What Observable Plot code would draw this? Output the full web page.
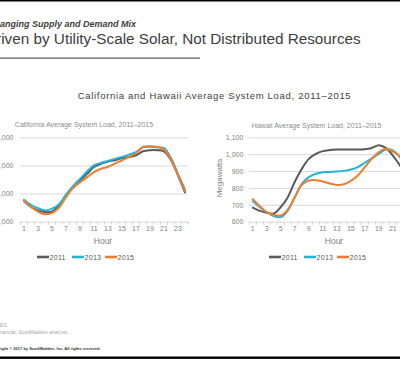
<!DOCTYPE html>
<html>
<head>
<meta charset="utf-8">
<script src="https://cdn.jsdelivr.net/npm/d3@7"></script>
<script src="https://cdn.jsdelivr.net/npm/@observablehq/plot@0.6"></script>
<style>
  html, body { margin: 0; padding: 0; background: #fff; }
  #page { position: relative; width: 400px; height: 378px; overflow: hidden; background: #fff;
          font-family: "Liberation Sans", Arial, sans-serif; }
  #page > svg, #page > div { position: absolute; }
</style>
</head>
<body>
<div id="page">
  <svg id="deco" width="400" height="378" style="left:0;top:0" font-family="Liberation Sans, Arial, sans-serif"></svg>
</div>
<script>
// ---- data ----
const hours = d3.range(1, 25);
const years = ["2011", "2013", "2015"];
const yearColors = ["#595959", "#22B5D5", "#EE7D31"];
const hourTicks = [1, 3, 5, 7, 9, 11, 13, 15, 17, 19, 21, 23];

const caTicks = [20000, 25000, 30000, 35000];
const ca2011 = [23700, 22700, 22100, 21800, 21900, 23000, 24600, 26200, 27400, 28600, 29800, 30400, 30800, 31000, 31400, 31600, 31900, 32600, 32800, 32800, 32600, 31000, 28300, 25300];
const ca2013 = [24000, 23100, 22500, 22100, 22400, 23200, 24900, 26400, 27700, 29000, 30100, 30550, 30900, 31250, 31600, 32000, 32450, 33300, 33400, 33300, 33150, 31400, 28600, 25800];
const ca2015 = [23800, 22700, 21900, 21400, 21650, 22600, 24450, 26050, 27100, 28000, 28900, 29500, 29850, 30400, 31000, 31600, 32300, 33400, 33500, 33400, 32900, 31150, 28400, 25550];

const hiTicks = [600, 700, 800, 900, 1000, 1100];
const hi2011 = [686, 667, 656, 652, 690, 748, 840, 916, 975, 1005, 1021, 1027, 1030, 1031, 1031, 1031, 1032, 1040, 1056, 1040, 995, 938, 870, 790];
const hi2013 = [725, 689, 659, 636, 630, 669, 748, 827, 867, 887, 896, 898, 900, 904, 912, 926, 952, 979, 1005, 1031, 1025, 985, 905, 820];
const hi2015 = [737, 695, 659, 643, 640, 675, 748, 821, 847, 849, 841, 829, 821, 825, 845, 877, 926, 975, 1015, 1035, 1019, 991, 915, 835];

// ---- helpers ----
function rows(seriesList) {
  const out = [];
  seriesList.forEach((vals, i) => vals.forEach((v, j) => out.push({hour: hours[j], year: years[i], load: v})));
  return out;
}

function makeChart(data, ticks, domain, marginLeft, tickPadding, width) {
  return Plot.plot({
    width, height: 131.7,
    marginLeft, marginTop: 27.3, marginRight: width - marginLeft - 168, marginBottom: 20,
    style: {background: "transparent", fontFamily: "Liberation Sans, Arial, sans-serif", fontSize: "7px", color: "#808080", overflow: "visible"},
    x: {domain: [0.5, 24.5]},
    y: {domain},
    color: {domain: years, range: yearColors},
    marks: [
      Plot.gridY(ticks, {stroke: "#d9d9d9", strokeOpacity: 1, strokeWidth: 1}),
      Plot.axisY(ticks, {tickSize: 0, tickPadding, tickFormat: d3.format(","), label: null, fill: "#7f7f7f"}),
      Plot.axisX(d3.range(0.5, 25, 1), {tickSize: 3, tickFormat: () => "", stroke: "#d0d0d0", label: null}),
      Plot.axisX(hourTicks, {tickSize: 0, tickPadding: 4, label: null, fill: "#7f7f7f"}),
      Plot.line(data, {x: "hour", y: "load", stroke: "year", z: "year", strokeWidth: 2, curve: "catmull-rom"})
    ]
  });
}

const page = document.getElementById("page");

const ca = makeChart(rows([ca2011, ca2013, ca2015]), caTicks, [20000, 35000], 60, 7, 238);
ca.style.position = "absolute"; ca.style.left = "-40px"; ca.style.top = "110px";
page.appendChild(ca);

const hi = makeChart(rows([hi2011, hi2013, hi2015]), hiTicks, [600, 1100], 58.8, 6, 236.8);
hi.style.position = "absolute"; hi.style.left = "190px"; hi.style.top = "110px";
page.appendChild(hi);

// ---- decoration & text ----
const deco = d3.select("#deco");
deco.append("rect").attr("x", 0).attr("y", 0).attr("width", 400).attr("height", 1.5).attr("fill", "#000");
deco.append("text").attr("x", -12).attr("y", 27).attr("font-size", 9).attr("font-weight", "bold").attr("font-style", "italic").attr("fill", "#404040").text("Changing Supply and Demand Mix");
deco.append("text").attr("x", -15).attr("y", 43.5).attr("font-size", 15.3).attr("fill", "#404040").text("Driven by Utility-Scale Solar, Not Distributed Resources");
deco.append("rect").attr("x", 0).attr("y", 57.5).attr("width", 200).attr("height", 1.2).attr("fill", "#595959");

deco.append("text").attr("x", 214.5).attr("y", 99).attr("text-anchor", "middle").attr("font-size", 9.5).attr("letter-spacing", 0.7).attr("fill", "#404040").text("California and Hawaii Average System Load, 2011–2015");

deco.append("text").attr("x", 84).attr("y", 126.5).attr("text-anchor", "middle").attr("font-size", 7).attr("fill", "#8c8c8c").text("California Average System Load, 2011–2015");
deco.append("text").attr("x", 316.5).attr("y", 127.5).attr("text-anchor", "middle").attr("font-size", 7).attr("fill", "#8c8c8c").text("Hawaii Average System Load, 2011–2015");

deco.append("text").attr("x", 103).attr("y", 243.5).attr("text-anchor", "middle").attr("font-size", 8.5).attr("fill", "#808080").text("Hour");
deco.append("text").attr("x", 334).attr("y", 243.5).attr("text-anchor", "middle").attr("font-size", 8.5).attr("fill", "#808080").text("Hour");
deco.append("text").attr("transform", "translate(222,178) rotate(-90)").attr("text-anchor", "middle").attr("font-size", 8).attr("fill", "#808080").text("Megawatts");

function legend(x0) {
  const offs = [0, 35, 68];
  years.forEach((y, i) => {
    deco.append("rect").attr("x", x0 + offs[i]).attr("y", 255.7).attr("width", 12).attr("height", 2.6).attr("fill", yearColors[i]);
    deco.append("text").attr("x", x0 + offs[i] + 12.5).attr("y", 259.5).attr("font-size", 7).attr("letter-spacing", 0.3).attr("fill", "#595959").text(y);
  });
}
legend(37);
legend(269);

deco.append("text").attr("x", -18).attr("y", 327).attr("font-size", 5).attr("fill", "#a6a6a6").text("SOURCES:");
deco.append("text").attr("x", -15.3).attr("y", 334).attr("font-size", 5).attr("fill", "#a6a6a6").text("SNL Financial; ScottMadden analysis.");
deco.append("text").attr("x", -10.7).attr("y", 349.5).attr("font-size", 4).attr("font-weight", "bold").attr("fill", "#333").text("Copyright © 2017 by ScottMadden, Inc. All rights reserved.");
deco.append("rect").attr("x", 0).attr("y", 356.5).attr("width", 400).attr("height", 2.4).attr("fill", "#000");
</script>
</body>
</html>
